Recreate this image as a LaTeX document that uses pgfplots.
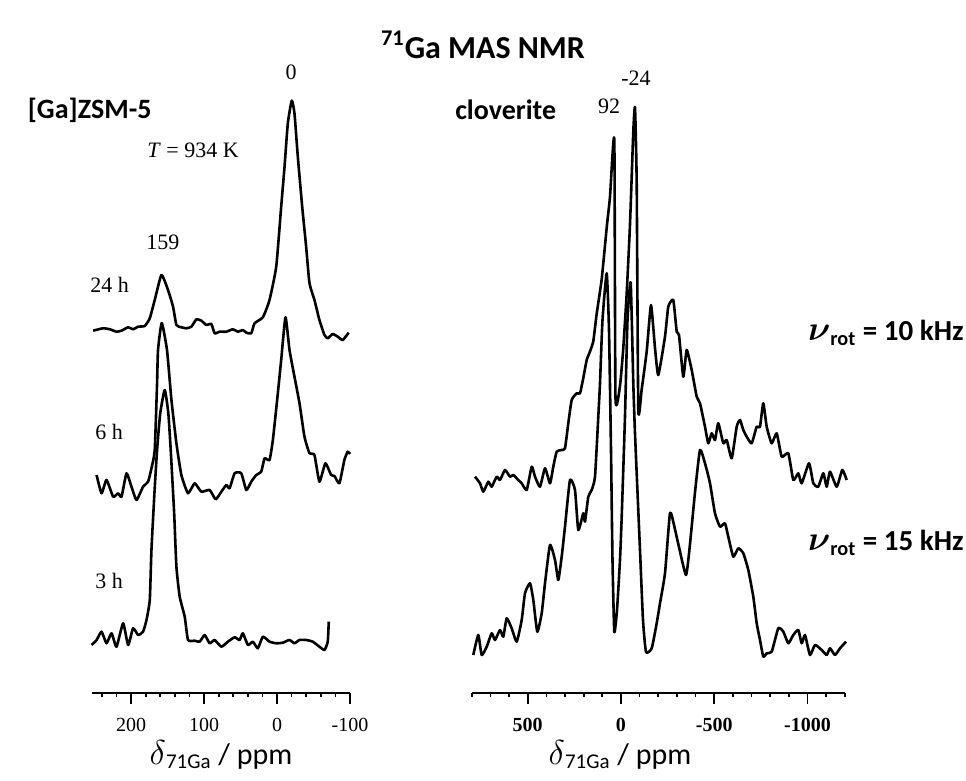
\documentclass[border=0pt]{standalone}
\usepackage{fontspec}
\setmainfont{Carlito}
\newfontfamily\timesfont{Liberation Serif}
\usepackage{pgfplots}
\pgfplotsset{compat=1.18}

\pgfplotsset{
  nmr/.style={
    scale only axis, clip=false, anchor=south west,
    axis x line=bottom, axis y line=none,
    x dir=reverse,
    x axis line style={-, line width=1pt},
    ymin=0, ymax=620, height=310pt,
    tick align=outside,
    major tick length=5.3pt, minor tick length=2.2pt,
    every tick/.append style={black, line width=0.85pt},
    xticklabel style={font=\timesfont\fontsize{10}{12}\selectfont, yshift=-4pt},
  },
  spec/.style={black, line width=1.3pt, no markers, line join=round, smooth, tension=0.3},
}

\begin{document}
\begin{tikzpicture}
\useasboundingbox (0,0) rectangle (483pt,390.5pt);

% left panel: [Ga]ZSM-5
\begin{axis}[nmr, at={(45.85pt,44pt)}, width=129.15pt,
  xmin=-100, xmax=254,
  xtick={200,100,0,-100}, xticklabels={200,100,0,-100},
  minor xtick={240,220,180,160,140,120,80,60,40,20,-20,-40,-60,-80}]
% 24 h
\addplot[spec] coordinates {
(252.0,362.3) (238.3,364.7) (229.1,363.7) (220.0,361.3) (213.1,362.3) (204.1,365.7)
(197.3,363.7) (190.4,366.3) (181.3,367) (174.4,374.7) (167.6,393) (158.4,418)
(149.4,403) (142.5,386.3) (137.9,368) (131.1,365.7) (124.2,364.7) (117.4,366.3)
(110.5,373.7) (103.7,372.3) (96.9,368) (90.0,369) (85.5,359.7) (78.7,361.3)
(69.5,361.3) (60.5,363.7) (53.6,361.3) (46.8,363) (42.1,360.3) (35.3,359.7)
(30.8,369.7) (19.4,375.7) (10.3,393) (1.1,426.3) (-5.7,486.3) (-10.3,526.3)
(-14.8,569.7) (-20.2,592.3) (-23.9,579.7) (-28.5,536.3) (-34.5,486.3) (-39.9,446.3)
(-44.5,409.7) (-51.3,393) (-58.1,373) (-65.0,358) (-69.5,354.7) (-76.3,359)
(-83.2,356.3) (-90.0,353) (-98.2,360.3)
};
% 6 h
\addplot[spec] coordinates {
(247.3,218) (240.5,199.7) (233.7,213) (224.6,196.3) (217.8,199.7) (213.1,196.3)
(206.3,219.7) (199.5,206.3) (192.6,193) (183.6,206.3) (176.7,211.3) (172.1,224.7)
(167.6,243) (164.4,309.7) (163.1,343) (158.0,370) (150.8,343) (144.7,293)
(137.9,249.7) (131.1,218) (122.0,199.7) (112.9,209.7) (103.7,201.3) (92.3,203)
(84.1,193.7) (76.3,201.3) (69.5,208) (65.0,204.7) (58.1,219.7) (49.0,219.7)
(42.1,203) (35.3,211.3) (28.5,218) (21.6,221.3) (17.1,234.7) (10.3,233)
(5.7,253) (-1.1,299.7) (-5.7,333) (-11.6,375.7) (-17.1,343) (-23.9,316.3)
(-30.8,289.7) (-37.6,256.3) (-44.5,239.7) (-51.3,238) (-58.1,211.3) (-66.3,229.7)
(-74.1,218) (-78.7,217) (-85.5,209.7) (-92.3,233) (-96.9,241.3) (-100.1,239)
};
% 3 h
\addplot[spec] coordinates {
(254.2,48) (247.3,53) (240.5,61.3) (233.7,49.7) (226.8,59.7) (220.0,46.3)
(210.9,69.7) (204.1,48) (197.3,64.7) (190.4,58) (183.6,61.3) (178.9,73)
(174.4,93) (172.1,143) (168.0,200) (164.4,243) (160.0,280) (153.9,303)
(149.0,280) (145.7,243) (141.0,180) (137.9,126.3) (133.4,96.3) (126.5,76.3)
(122.0,53) (112.9,52.3) (106.0,51.3) (99.2,58) (92.3,49.7) (85.5,53)
(76.3,46.3) (67.3,51.3) (58.1,55.7) (51.3,53) (46.8,59.7) (39.9,48)
(33.1,51.3) (26.3,44.7) (19.4,56.3) (10.3,51.3) (1.1,49.7) (-7.9,50.3)
(-17.1,53) (-23.9,49.7) (-30.8,53) (-39.9,53) (-49.0,51.3) (-58.1,46.3)
(-65.0,43) (-69.5,51.3) (-70.9,71.3)
};
\end{axis}

% right panel: cloverite
\begin{axis}[nmr, at={(235.9pt,44pt)}, width=186.5pt,
  xmin=-1200, xmax=800,
  xtick={500,0,-500,-1000}, xticklabels={500,0,-500,-1000},
  minor xtick={800,700,...,-1200},
  xticklabel style={font=\timesfont\bfseries\fontsize{10}{12}\selectfont}]
% 10 kHz
\addplot[spec] coordinates {
(782.9,216.3) (756.0,209.7) (738.3,201.3) (711.5,211.3) (693.3,206.3) (666.5,216.3)
(648.8,213) (622.0,223) (595.2,216.3) (577.5,218) (550.7,213) (532.4,209.7)
(505.6,203) (478.8,226.3) (461.1,216.3) (434.3,206.3) (407.5,224.7) (380.7,209.7)
(363.0,226.3) (344.8,241.3) (318.0,243) (300.3,244.7) (282.6,269.7) (264.3,293)
(237.5,299.7) (219.8,299.7) (202.1,315) (183.9,333) (166.2,341.5) (148.5,351.8)
(130.3,379.3) (103.5,413.7) (76.7,465.2) (59.0,496.2) (35.9,552.9) (29.5,295)
(5.4,307.2) (-12.3,345) (-30.6,399.9) (-48.3,468.7) (-66.0,561.5) (-75.1,585.5)
(-84.2,509.9) (-92.8,283.1) (-111.0,303.7) (-137.8,341.5) (-160.9,387.9) (-182.3,345)
(-200.0,318) (-235.9,356.3) (-253.6,386.3) (-280.4,393) (-298.7,361.3) (-311.0,358)
(-334.1,316.3) (-352.3,343) (-379.1,323) (-405.9,296.3) (-423.6,289.7) (-450.4,266.3)
(-468.1,249.7) (-486.3,259.7) (-504.0,253) (-521.7,269.7) (-548.5,249.7) (-566.8,253)
(-593.6,234.7) (-620.4,266.3) (-638.1,273) (-655.8,263) (-674.0,256.3) (-700.8,249.7)
(-727.6,266.3) (-745.3,266.3) (-763.0,289.7) (-781.2,266.3) (-808.1,249.7) (-834.9,259.7)
(-861.7,236.3) (-897.1,239.7) (-923.9,213) (-950.7,219.7) (-968.9,209.7) (-1008.1,229.7)
(-1031.1,209.7) (-1057.9,206.3) (-1084.7,219.7) (-1102.9,206.3) (-1120.7,221.3) (-1156.6,206.3)
(-1186.6,223) (-1210.2,213)
};
% 15 kHz
\addplot[spec] coordinates {
(792.0,38) (765.2,58) (746.9,38) (720.1,46.3) (693.3,59.7) (675.6,53)
(648.8,63) (631.1,56.3) (612.9,74.7) (586.1,64.7) (559.3,51.3) (532.4,73)
(514.8,99.7) (487.9,109.7) (470.2,93) (448.8,61.3) (425.2,79.7) (407.5,109.7)
(380.7,148) (353.9,133) (336.2,113) (318.0,136.3) (300.3,166.3) (273.5,213)
(246.7,203) (229.0,163) (202.1,179.7) (193.0,171.3) (175.3,196.3) (157.1,203)
(139.4,216.3) (121.7,276.3) (112.6,309.7) (99.2,373) (76.7,419.7) (64.3,363)
(53.6,243) (45.6,133) (35.9,61.3) (21.4,83) (5.4,133) (-3.8,176.3)
(-21.4,276.3) (-34.9,373) (-52.0,410.3) (-66.0,309.7) (-75.1,259.7) (-101.9,143)
(-118.0,73) (-134.1,41) (-164.6,44.7) (-191.4,69.7) (-209.1,89.7) (-235.9,119.7)
(-262.7,180) (-284.2,168) (-307.2,149) (-348.5,118) (-370.0,149) (-396.8,200.6)
(-423.6,243) (-450.4,229.7) (-477.2,209.7) (-504.0,179.7) (-530.8,166.3) (-557.6,169.7)
(-575.3,156.3) (-602.2,136.3) (-629.0,144.7) (-655.8,139.7) (-682.6,123) (-709.4,96.3)
(-727.6,69.7) (-745.3,53) (-763.0,36.3) (-781.2,39.7) (-808.1,41.3) (-843.4,64.7)
(-870.3,61.3) (-897.1,49.7) (-923.9,58) (-950.7,63) (-968.9,49.7) (-986.6,58)
(-1013.4,38) (-1040.2,48) (-1076.2,43) (-1102.9,38) (-1120.7,44.7) (-1147.5,38)
(-1174.3,44.7) (-1206.5,51.3)
};
\end{axis}

% titles and annotations
\node[font=\bfseries\fontsize{16}{19}\selectfont] at (241.5pt,368pt) {\textsuperscript{71}Ga MAS NMR};
\node[font=\bfseries\fontsize{14}{16}\selectfont, anchor=east, inner sep=0pt] at (76pt,335.5pt) {[Ga]ZSM-5};
\node[font=\bfseries\fontsize{14}{16}\selectfont, anchor=east, inner sep=0pt] at (278.3pt,335.5pt) {cloverite};

\begin{scope}[every node/.style={font=\timesfont\fontsize{11}{13}\selectfont, inner sep=0pt}]
\node[anchor=west] at (73.5pt,315.3pt) {\textit{T} = 934 K};
\node at (81.5pt,269.3pt) {159};
\node[anchor=west] at (45pt,248pt) {24 h};
\node[anchor=west] at (47.5pt,174.3pt) {6 h};
\node[anchor=west] at (47.5pt,100pt) {3 h};
\node at (145.5pt,354.5pt) {0};
\node at (304.5pt,337.3pt) {92};
\node at (318pt,351.5pt) {-24};
\end{scope}

\node[font=\bfseries\fontsize{14.5}{17}\selectfont, anchor=east, inner sep=0pt] at (482pt,224pt)
  {{\fontsize{17.5}{18}\selectfont\boldmath$\nu$}\textsubscript{rot} = 10 kHz};
\node[font=\bfseries\fontsize{14.5}{17}\selectfont, anchor=east, inner sep=0pt] at (482pt,119pt)
  {{\fontsize{17.5}{18}\selectfont\boldmath$\nu$}\textsubscript{rot} = 15 kHz};

\node[font=\fontsize{15}{17}\selectfont] at (110.5pt,13pt) {{\fontsize{17}{17}\selectfont$\delta$}\textsubscript{71Ga} / ppm};
\node[font=\fontsize{15}{17}\selectfont] at (310pt,13pt) {{\fontsize{17}{17}\selectfont$\delta$}\textsubscript{71Ga} / ppm};
\end{tikzpicture}
\end{document}
